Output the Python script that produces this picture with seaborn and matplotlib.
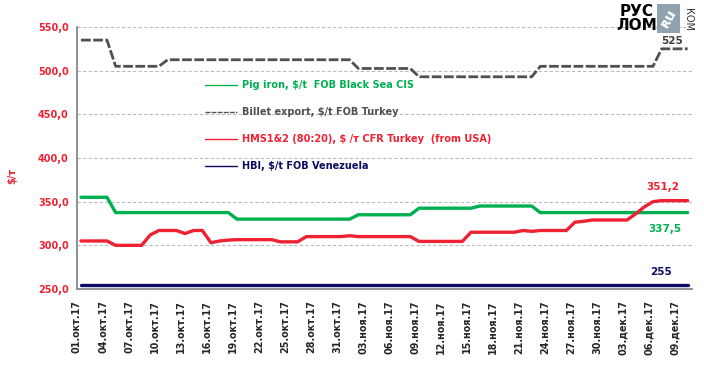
import numpy as np
import pandas as pd
import matplotlib
matplotlib.use("Agg")
import matplotlib.pyplot as plt
from matplotlib.patches import Rectangle
import seaborn as sns

# день от 01.10.2017 до 10.12.2017
days = list(range(71))

pig_iron = [
    355, 355, 355, 355, 337.5, 337.5, 337.5, 337.5, 337.5, 337.5,
    337.5, 337.5, 337.5, 337.5, 337.5, 337.5, 337.5, 337.5, 330, 330,
    330, 330, 330, 330, 330, 330, 330, 330, 330, 330,
    330, 330, 335, 335, 335, 335, 335, 335, 335, 342.5,
    342.5, 342.5, 342.5, 342.5, 342.5, 342.5, 345, 345, 345, 345,
    345, 345, 345, 337.5, 337.5, 337.5, 337.5, 337.5, 337.5, 337.5,
    337.5, 337.5, 337.5, 337.5, 337.5, 337.5, 337.5, 337.5, 337.5, 337.5,
    337.5,
]
billet = [
    535, 535, 535, 535, 505, 505, 505, 505, 505, 505,
    512.5, 512.5, 512.5, 512.5, 512.5, 512.5, 512.5, 512.5, 512.5, 512.5,
    512.5, 512.5, 512.5, 512.5, 512.5, 512.5, 512.5, 512.5, 512.5, 512.5,
    512.5, 512.5, 502.5, 502.5, 502.5, 502.5, 502.5, 502.5, 502.5, 493,
    493, 493, 493, 493, 493, 493, 493, 493, 493, 493,
    493, 493, 493, 505, 505, 505, 505, 505, 505, 505,
    505, 505, 505, 505, 505, 505, 505, 525, 525, 525,
    525,
]
hms = [
    305, 305, 305, 305, 300, 300, 300, 300, 312, 317,
    317, 317, 313.5, 317, 317, 303, 305, 306, 306.5, 306.5,
    306.5, 306.5, 306.5, 304, 304, 304, 310, 310, 310, 310,
    310, 311, 310, 310, 310, 310, 310, 310, 310, 304.5,
    304.5, 304.5, 304.5, 304.5, 304.5, 315, 315, 315, 315, 315,
    315, 317, 316, 317, 317, 317, 317, 326.5, 327.5, 329,
    329, 329, 329, 329, 336, 344, 350, 351.2, 351.2, 351.2,
    351.2,
]
hbi = [255] * 71

tick_labels = [
    "01.окт.17", "04.окт.17", "07.окт.17", "10.окт.17", "13.окт.17", "16.окт.17",
    "19.окт.17", "22.окт.17", "25.окт.17", "28.окт.17", "31.окт.17",
    "03.ноя.17", "06.ноя.17", "09.ноя.17", "12.ноя.17", "15.ноя.17",
    "18.ноя.17", "21.ноя.17", "24.ноя.17", "27.ноя.17", "30.ноя.17",
    "03.дек.17", "06.дек.17", "09.дек.17",
]

labels = [
    "Pig iron, $/t  FOB Black Sea CIS",
    "Billet export, $/t FOB Turkey",
    "HMS1&2 (80:20), $ /т CFR Turkey  (from USA)",
    "HBI, $/t FOB Venezuela",
]

GREEN = "#00B050"
GRAY = "#505050"
RED = "#EE2233"
NAVY = "#0A0A60"

sns.set_style("white")
plt.rcParams["font.family"] = ["DejaVu Sans"]

W, H = 704, 384
fig = plt.figure(figsize=(W / 100, H / 100), dpi=100)


def fx(x):
    return x / W


def fy(y):
    return 1 - y / H


ax = fig.add_axes([fx(77), fy(289), fx(692) - fx(77), fy(27) - fy(289)])

df = pd.DataFrame({"day": days, "pig": pig_iron, "billet": billet,
                   "hms": hms, "hbi": hbi})

sns.lineplot(data=df, x="day", y="pig", ax=ax, color=GREEN, lw=2.4,
             label=labels[0])
sns.lineplot(data=df, x="day", y="billet", ax=ax, color=GRAY, lw=2.0,
             label=labels[1], dashes=False)
ax.lines[-1].set_dashes([3.5, 0.9])
sns.lineplot(data=df, x="day", y="hms", ax=ax, color=RED, lw=2.4,
             label=labels[2])
sns.lineplot(data=df, x="day", y="hbi", ax=ax, color=NAVY, lw=2.4,
             label=labels[3])

ax.set_xlim(-0.46, 70.5)
ax.set_ylim(250, 550)
ax.set_yticks(np.arange(250, 551, 50))
ax.set_yticklabels([f"{v:.1f}".replace(".", ",") for v in np.arange(250, 551, 50)])
ax.set_xticks(np.arange(0, 70, 3) - 0.46)
ax.set_xticklabels(tick_labels, rotation=90)
ax.set_xlabel("")
ax.set_ylabel("")

for v in np.arange(300, 551, 50):
    ax.axhline(v, color="#BBBBBB", lw=0.8, ls=(0, (3, 2)), zorder=0)

for s in ["top", "right"]:
    ax.spines[s].set_visible(False)
for s in ["left", "bottom"]:
    ax.spines[s].set_color("#888888")
    ax.spines[s].set_linewidth(1.3)

ax.tick_params(axis="x", direction="out", length=4, color="#888888",
               labelsize=6.9, pad=4)
ax.tick_params(axis="y", direction="out", length=3, color="#888888",
               labelsize=7, labelcolor=RED, pad=3)
for t in ax.get_xticklabels():
    t.set_fontweight("bold")
for t in ax.get_yticklabels():
    t.set_fontweight("bold")

leg = ax.legend(loc="upper left", bbox_to_anchor=(0.208, 0.797), frameon=False,
                fontsize=7, handlelength=3.3, handletextpad=0.5,
                labelspacing=1.75, borderpad=0, borderaxespad=0)
leg_colors = [GREEN, GRAY, RED, NAVY]
for txt, c, h in zip(leg.get_texts(), leg_colors, leg.legend_handles):
    txt.set_color(c)
    txt.set_fontweight("bold")
    h.set_linewidth(1.0)

fig.text(fx(12), fy(176), "$/т", color=RED, fontsize=7, fontweight="bold",
         rotation=90, ha="center", va="center")

fig.text(fx(672), fy(41), "525", color="#404040", fontsize=7.5,
         fontweight="bold", ha="center", va="center")
fig.text(fx(663), fy(187), "351,2", color=RED, fontsize=7.5,
         fontweight="bold", ha="center", va="center")
fig.text(fx(665), fy(229), "337,5", color=GREEN, fontsize=7.5,
         fontweight="bold", ha="center", va="center")
fig.text(fx(661), fy(272), "255", color=NAVY, fontsize=7.5,
         fontweight="bold", ha="center", va="center")

# логотип
fig.text(fx(637), fy(12), "РУС", fontsize=11, fontweight="bold",
         ha="center", va="center", color="black", family="Liberation Sans Narrow")
fig.text(fx(637), fy(26), "ЛОМ", fontsize=11, fontweight="bold",
         ha="center", va="center", color="black", family="Liberation Sans Narrow")
fig.patches.append(Rectangle((fx(657), fy(33)), fx(680) - fx(657),
                             fy(4) - fy(33), transform=fig.transFigure,
                             facecolor="#8FA2AE", edgecolor="none"))
fig.text(fx(668.5), fy(18.5), "ʀu", fontsize=10, color="white", rotation=60,
         ha="center", va="center", fontweight="bold")
fig.text(fx(688), fy(19), "КОМ", fontsize=7, color="#333333", rotation=-90,
         ha="center", va="center")

fig.savefig("out.png", dpi=100)
